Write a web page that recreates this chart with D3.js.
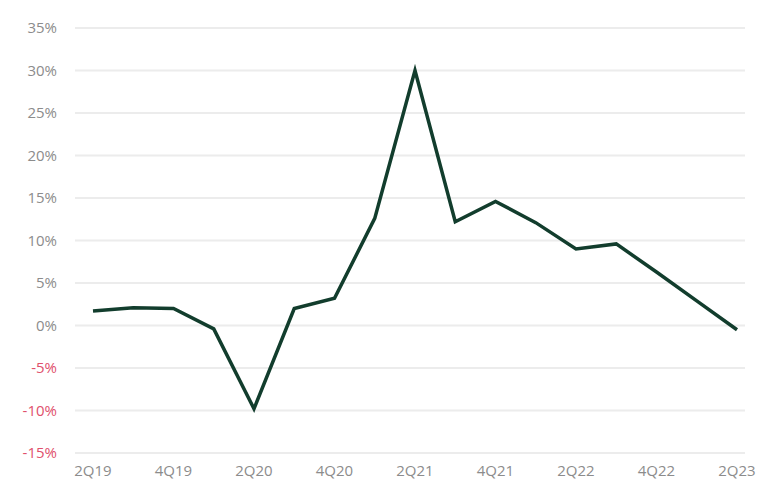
<!DOCTYPE html>
<html><head><meta charset="utf-8">
<script src="https://cdn.jsdelivr.net/npm/d3@7"></script>
<style>body{margin:0;background:#fff}svg{display:block}</style>
</head><body><svg id="c" width="761" height="492"></svg>
<script>
const quarters = ["2Q19","3Q19","4Q19","1Q20","2Q20","3Q20","4Q20","1Q21","2Q21","3Q21","4Q21","1Q22","2Q22","3Q22","4Q22","1Q23","2Q23"];
const values = [1.7, 2.1, 2.0, -0.4, -9.8, 2.0, 3.2, 12.6, 30.0, 12.2, 14.6, 12.1, 9.0, 9.6, 6.3, 2.9, -0.5];
const yTicks = [-15,-10,-5,0,5,10,15,20,25,30,35];
const xLabels = ["2Q19","4Q19","2Q20","4Q20","2Q21","4Q21","2Q22","4Q22","2Q23"];

const svg = d3.select("#c");
const x = d3.scalePoint().domain(quarters).range([93, 737]);
const y = d3.scaleLinear().domain([-15, 35]).range([453, 28]);

svg.append("g").selectAll("line").data(yTicks).join("line")
  .attr("x1", 75).attr("x2", 745)
  .attr("y1", d => y(d)).attr("y2", d => y(d))
  .attr("stroke", "#ececec").attr("stroke-width", 2);

svg.append("g").selectAll("text").data(yTicks).join("text")
  .attr("x", 57).attr("y", d => y(d)).attr("dy", "0.35em")
  .attr("text-anchor", "end")
  .attr("font-family", "Open Sans, sans-serif").attr("font-size", 15)
  .attr("fill", d => d < 0 ? "#e0506c" : "#8c8c8c")
  .text(d => d + "%");

svg.append("g").selectAll("text").data(xLabels).join("text")
  .attr("x", d => x(d)).attr("y", 476)
  .attr("text-anchor", "middle")
  .attr("font-family", "Open Sans, sans-serif").attr("font-size", 15)
  .attr("fill", "#8c8c8c")
  .text(d => d);

const line = d3.line().x((d, i) => x(quarters[i])).y(d => y(d));
svg.append("path").datum(values)
  .attr("d", line).attr("fill", "none")
  .attr("stroke", "#123d2d").attr("stroke-width", 3.5)
  .attr("stroke-linejoin", "miter");
</script></body></html>
